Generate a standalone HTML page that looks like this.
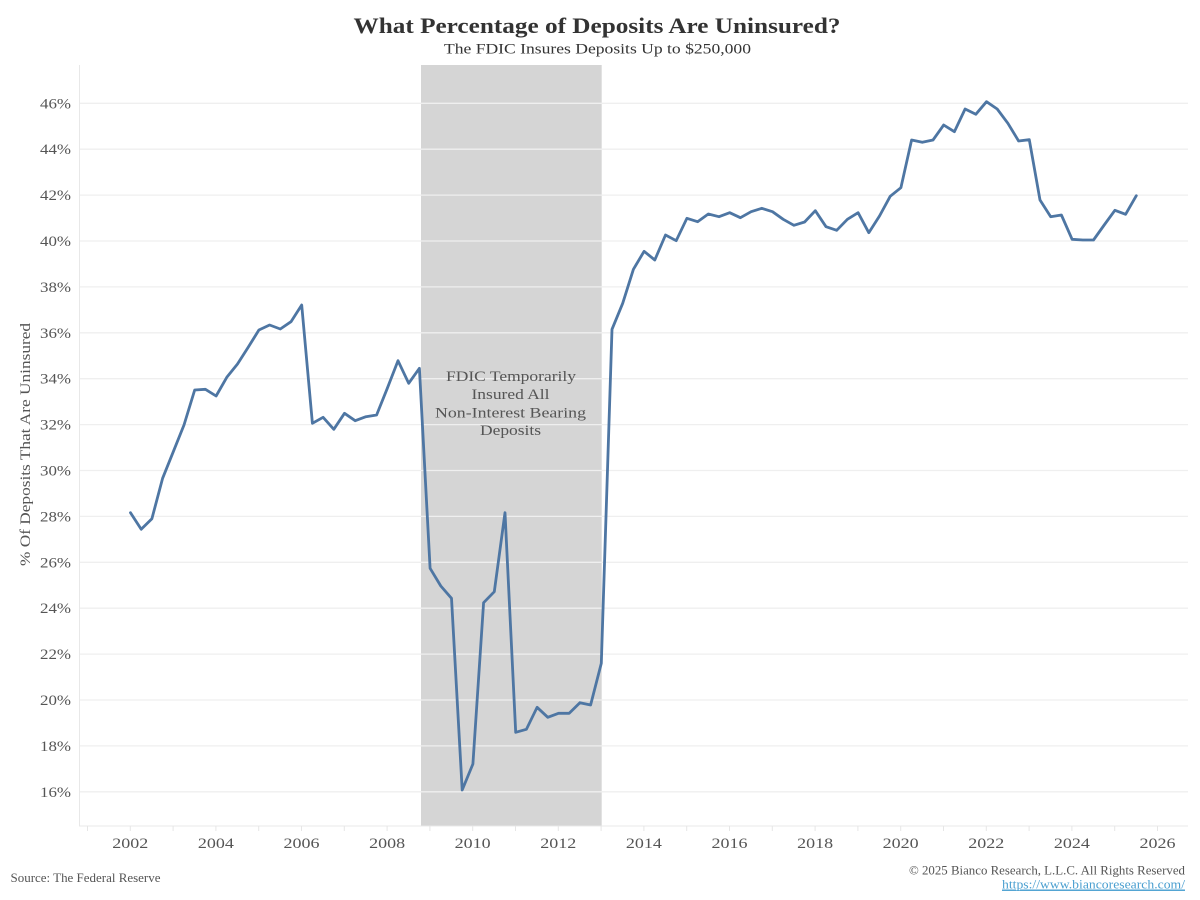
<!DOCTYPE html>
<html>
<head>
<meta charset="utf-8">
<style>
  html,body{margin:0;padding:0;background:#fff;}
  svg{display:block;}
  text{font-family:"Liberation Serif",serif;}
</style>
</head>
<body>
<svg width="1200" height="900" viewBox="0 0 1200 900" xmlns="http://www.w3.org/2000/svg">
  <rect width="1200" height="900" fill="#fff"/>
  <!-- shading -->
  <rect x="421" y="65" width="180.7" height="761" fill="#d5d5d5"/>
  <!-- gridlines -->
  <g stroke="#efefef" stroke-width="1.3">
    <line x1="80" x2="1188" y1="103.3" y2="103.3"/>
    <line x1="80" x2="1188" y1="149.2" y2="149.2"/>
    <line x1="80" x2="1188" y1="195.1" y2="195.1"/>
    <line x1="80" x2="1188" y1="241" y2="241"/>
    <line x1="80" x2="1188" y1="286.9" y2="286.9"/>
    <line x1="80" x2="1188" y1="332.8" y2="332.8"/>
    <line x1="80" x2="1188" y1="378.7" y2="378.7"/>
    <line x1="80" x2="1188" y1="424.6" y2="424.6"/>
    <line x1="80" x2="1188" y1="470.5" y2="470.5"/>
    <line x1="80" x2="1188" y1="516.4" y2="516.4"/>
    <line x1="80" x2="1188" y1="562.3" y2="562.3"/>
    <line x1="80" x2="1188" y1="608.2" y2="608.2"/>
    <line x1="80" x2="1188" y1="654.1" y2="654.1"/>
    <line x1="80" x2="1188" y1="700" y2="700"/>
    <line x1="80" x2="1188" y1="745.9" y2="745.9"/>
    <line x1="80" x2="1188" y1="791.8" y2="791.8"/>
  </g>
  <!-- axes -->
  <line x1="79.5" x2="79.5" y1="65" y2="826" stroke="#e8e8e8" stroke-width="1"/>
  <line x1="79" x2="1188" y1="826" y2="826" stroke="#e8e8e8" stroke-width="1"/>
  <g stroke="#e6e6e6" stroke-width="1">
    <line x1="87.5" x2="87.5" y1="826" y2="831"/>
    <line x1="130.3" x2="130.3" y1="826" y2="831"/>
    <line x1="173.1" x2="173.1" y1="826" y2="831"/>
    <line x1="215.9" x2="215.9" y1="826" y2="831"/>
    <line x1="258.7" x2="258.7" y1="826" y2="831"/>
    <line x1="301.5" x2="301.5" y1="826" y2="831"/>
    <line x1="344.3" x2="344.3" y1="826" y2="831"/>
    <line x1="387.1" x2="387.1" y1="826" y2="831"/>
    <line x1="429.9" x2="429.9" y1="826" y2="831"/>
    <line x1="472.7" x2="472.7" y1="826" y2="831"/>
    <line x1="515.5" x2="515.5" y1="826" y2="831"/>
    <line x1="558.3" x2="558.3" y1="826" y2="831"/>
    <line x1="601.1" x2="601.1" y1="826" y2="831"/>
    <line x1="643.9" x2="643.9" y1="826" y2="831"/>
    <line x1="686.7" x2="686.7" y1="826" y2="831"/>
    <line x1="729.5" x2="729.5" y1="826" y2="831"/>
    <line x1="772.3" x2="772.3" y1="826" y2="831"/>
    <line x1="815.1" x2="815.1" y1="826" y2="831"/>
    <line x1="857.9" x2="857.9" y1="826" y2="831"/>
    <line x1="900.7" x2="900.7" y1="826" y2="831"/>
    <line x1="943.5" x2="943.5" y1="826" y2="831"/>
    <line x1="986.3" x2="986.3" y1="826" y2="831"/>
    <line x1="1029.1" x2="1029.1" y1="826" y2="831"/>
    <line x1="1071.9" x2="1071.9" y1="826" y2="831"/>
    <line x1="1114.7" x2="1114.7" y1="826" y2="831"/>
    <line x1="1157.5" x2="1157.5" y1="826" y2="831"/>
  </g>
  <!-- y tick labels -->
  <g fill="#555" font-size="15" text-anchor="end">
    <text x="71" y="108.3" textLength="31" lengthAdjust="spacingAndGlyphs">46%</text>
    <text x="71" y="154.2" textLength="31" lengthAdjust="spacingAndGlyphs">44%</text>
    <text x="71" y="200.1" textLength="31" lengthAdjust="spacingAndGlyphs">42%</text>
    <text x="71" y="246" textLength="31" lengthAdjust="spacingAndGlyphs">40%</text>
    <text x="71" y="291.9" textLength="31" lengthAdjust="spacingAndGlyphs">38%</text>
    <text x="71" y="337.8" textLength="31" lengthAdjust="spacingAndGlyphs">36%</text>
    <text x="71" y="383.7" textLength="31" lengthAdjust="spacingAndGlyphs">34%</text>
    <text x="71" y="429.6" textLength="31" lengthAdjust="spacingAndGlyphs">32%</text>
    <text x="71" y="475.5" textLength="31" lengthAdjust="spacingAndGlyphs">30%</text>
    <text x="71" y="521.4" textLength="31" lengthAdjust="spacingAndGlyphs">28%</text>
    <text x="71" y="567.3" textLength="31" lengthAdjust="spacingAndGlyphs">26%</text>
    <text x="71" y="613.2" textLength="31" lengthAdjust="spacingAndGlyphs">24%</text>
    <text x="71" y="659.1" textLength="31" lengthAdjust="spacingAndGlyphs">22%</text>
    <text x="71" y="705" textLength="31" lengthAdjust="spacingAndGlyphs">20%</text>
    <text x="71" y="750.9" textLength="31" lengthAdjust="spacingAndGlyphs">18%</text>
    <text x="71" y="796.8" textLength="31" lengthAdjust="spacingAndGlyphs">16%</text>
  </g>
  <!-- x tick labels -->
  <g fill="#555" font-size="15" text-anchor="middle">
    <text x="130.3" y="848" textLength="36" lengthAdjust="spacingAndGlyphs">2002</text>
    <text x="215.9" y="848" textLength="36" lengthAdjust="spacingAndGlyphs">2004</text>
    <text x="301.5" y="848" textLength="36" lengthAdjust="spacingAndGlyphs">2006</text>
    <text x="387.1" y="848" textLength="36" lengthAdjust="spacingAndGlyphs">2008</text>
    <text x="472.7" y="848" textLength="36" lengthAdjust="spacingAndGlyphs">2010</text>
    <text x="558.3" y="848" textLength="36" lengthAdjust="spacingAndGlyphs">2012</text>
    <text x="643.9" y="848" textLength="36" lengthAdjust="spacingAndGlyphs">2014</text>
    <text x="729.5" y="848" textLength="36" lengthAdjust="spacingAndGlyphs">2016</text>
    <text x="815.1" y="848" textLength="36" lengthAdjust="spacingAndGlyphs">2018</text>
    <text x="900.7" y="848" textLength="36" lengthAdjust="spacingAndGlyphs">2020</text>
    <text x="986.3" y="848" textLength="36" lengthAdjust="spacingAndGlyphs">2022</text>
    <text x="1071.9" y="848" textLength="36" lengthAdjust="spacingAndGlyphs">2024</text>
    <text x="1157.5" y="848" textLength="36" lengthAdjust="spacingAndGlyphs">2026</text>
  </g>
  <!-- y axis title -->
  <text transform="translate(30,444.5) rotate(-90)" text-anchor="middle" fill="#555" font-size="15" textLength="243" lengthAdjust="spacingAndGlyphs">% Of Deposits That Are Uninsured</text>
  <!-- annotation -->
  <g fill="#555" font-size="15" text-anchor="middle">
    <text x="511" y="381" textLength="130" lengthAdjust="spacingAndGlyphs">FDIC Temporarily</text>
    <text x="510.5" y="399" textLength="78" lengthAdjust="spacingAndGlyphs">Insured All</text>
    <text x="510.5" y="417.5" textLength="151" lengthAdjust="spacingAndGlyphs">Non-Interest Bearing</text>
    <text x="510.5" y="435" textLength="61" lengthAdjust="spacingAndGlyphs">Deposits</text>
  </g>
  <!-- series -->
  <polyline fill="none" stroke="#4e76a3" stroke-width="2.8" stroke-linejoin="round" stroke-linecap="round" points="
130.5,512.7 141.2,529.3 151.9,518.7 162.6,478.3 173.3,451.7 184,425 194.7,390 205.4,389.3 216.1,396 226.8,377.3
237.5,364 248.2,347.3 258.9,330 269.6,325 280.3,329 291,321.7 301.7,305 312.4,423.3 323.1,417.3 333.8,429.3
344.5,413.3 355.2,420.7 365.9,416.7 376.6,415 387.3,388.3 398,360.7 408.7,383.3 419.4,368.3 430.1,568.3 440.8,586
451.5,598.3 462.2,790 472.9,764 483.6,602.7 494.3,591.7 505,512.7 515.7,732.3 526.4,729.3 537.1,707.3 547.8,717.3
558.5,713.3 569.2,713.3 579.9,702.7 590.6,705 601.3,663.3 612,329.3 622.7,303.3 633.4,269.3 644.1,251.3 654.8,260
665.5,235 676.2,240.7 686.9,218.3 697.6,221.7 708.3,214 719,216.7 729.7,212.7 740.4,217.7 751.1,211.7 761.8,208.3
772.5,211.7 783.2,219.3 793.9,225.3 804.6,222 815.3,210.7 826,226.7 836.7,230.3 847.4,219.3 858.1,212.7 868.8,232.7
879.5,216 890.2,196.3 900.9,187.7 911.6,140 922.3,142.3 933,140 943.7,125 954.4,131.7 965.1,109 975.8,114.3
986.5,101.7 997.2,109 1007.9,123.3 1018.6,141 1029.3,139.7 1040,200 1050.7,216.7 1061.4,215 1072.1,239.3 1082.8,240
1093.5,240 1104.2,225 1114.9,210.3 1125.6,214.3 1136.3,195.7"/>
  <!-- titles -->
  <text x="597" y="33" text-anchor="middle" font-size="22" font-weight="bold" fill="#333" textLength="487" lengthAdjust="spacingAndGlyphs">What Percentage of Deposits Are Uninsured?</text>
  <text x="597.5" y="53.5" text-anchor="middle" font-size="15" fill="#333" textLength="307" lengthAdjust="spacingAndGlyphs">The FDIC Insures Deposits Up to $250,000</text>
  <!-- footer -->
  <text x="10.5" y="882" font-size="12.5" fill="#555" textLength="150" lengthAdjust="spacingAndGlyphs">Source: The Federal Reserve</text>
  <text x="1185" y="874.5" text-anchor="end" font-size="12.5" fill="#555" textLength="276" lengthAdjust="spacingAndGlyphs">© 2025 Bianco Research, L.L.C. All Rights Reserved</text>
  <text x="1185" y="888.5" text-anchor="end" font-size="12.5" fill="#4a9fd0" text-decoration="underline" textLength="183" lengthAdjust="spacingAndGlyphs">https://www.biancoresearch.com/</text>
  <line x1="1002" x2="1185" y1="890.5" y2="890.5" stroke="#4a9fd0" stroke-width="0.8"/>
</svg>
</body>
</html>
